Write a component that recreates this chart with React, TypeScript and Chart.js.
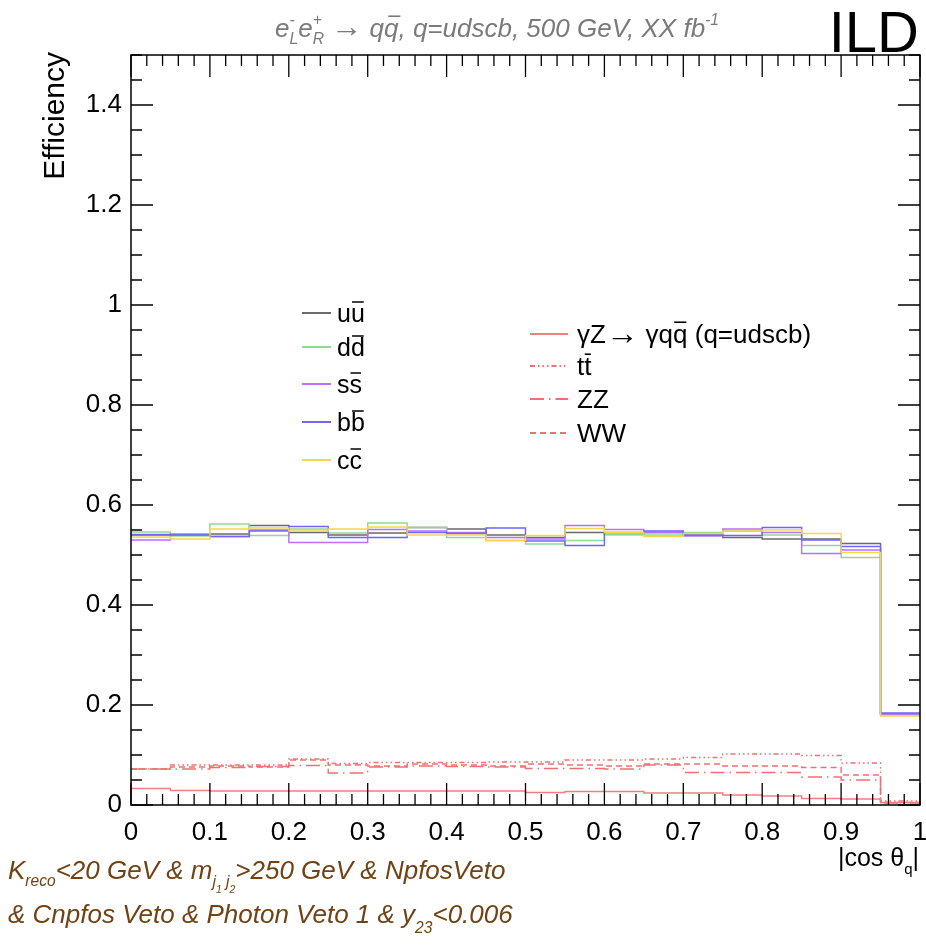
import React, { useEffect, useRef } from "react";
import { Chart, registerables } from "chart.js";
Chart.register(...registerables);

// ---------- data ----------
const binEdges = [0, 0.05, 0.1, 0.15, 0.2, 0.25, 0.3, 0.35, 0.4, 0.45, 0.5, 0.55, 0.6, 0.65, 0.7, 0.75, 0.8, 0.85, 0.9, 0.95, 1];

const uuEff = [0.540, 0.540, 0.542, 0.559, 0.545, 0.540, 0.544, 0.555, 0.552, 0.540, 0.535, 0.545, 0.541, 0.545, 0.540, 0.535, 0.532, 0.532, 0.523, 0.182];
const ddEff = [0.546, 0.538, 0.562, 0.539, 0.552, 0.544, 0.564, 0.555, 0.535, 0.529, 0.522, 0.529, 0.541, 0.540, 0.545, 0.548, 0.540, 0.519, 0.495, 0.180];
const ssEff = [0.530, 0.542, 0.537, 0.550, 0.525, 0.525, 0.551, 0.548, 0.545, 0.535, 0.532, 0.559, 0.551, 0.545, 0.538, 0.552, 0.545, 0.503, 0.510, 0.182];
const bbEff = [0.541, 0.540, 0.537, 0.548, 0.557, 0.535, 0.535, 0.545, 0.543, 0.554, 0.528, 0.519, 0.545, 0.548, 0.540, 0.539, 0.555, 0.530, 0.517, 0.184];
const ccEff = [0.536, 0.532, 0.552, 0.554, 0.548, 0.552, 0.556, 0.540, 0.540, 0.529, 0.539, 0.553, 0.545, 0.537, 0.543, 0.548, 0.550, 0.543, 0.505, 0.178];

const gzEff = [0.033, 0.029, 0.028, 0.028, 0.028, 0.028, 0.028, 0.028, 0.028, 0.028, 0.025, 0.027, 0.027, 0.024, 0.024, 0.020, 0.018, 0.013, 0.012, 0.005];
const ttEff = [0.072, 0.080, 0.080, 0.080, 0.092, 0.083, 0.085, 0.085, 0.085, 0.086, 0.086, 0.090, 0.090, 0.092, 0.095, 0.102, 0.102, 0.099, 0.084, 0.008];
const zzEff = [0.072, 0.072, 0.075, 0.077, 0.079, 0.064, 0.076, 0.078, 0.077, 0.076, 0.073, 0.073, 0.072, 0.080, 0.065, 0.065, 0.065, 0.056, 0.050, 0.004];
const wwEff = [0.072, 0.076, 0.078, 0.076, 0.090, 0.080, 0.078, 0.082, 0.080, 0.078, 0.082, 0.080, 0.078, 0.082, 0.082, 0.078, 0.078, 0.075, 0.060, 0.005];

const xTickLabels = ["0", "0.1", "0.2", "0.3", "0.4", "0.5", "0.6", "0.7", "0.8", "0.9", "1"];
const yTickValues = [0, 0.2, 0.4, 0.6, 0.8, 1, 1.2, 1.4];
const yTickLabels = ["0", "0.2", "0.4", "0.6", "0.8", "1", "1.2", "1.4"];

// ---------- helpers ----------
const FAM = '"Liberation Sans", Arial, Helvetica, sans-serif';

type Seg = { t: string; s?: number; dy?: number; over?: boolean; stay?: boolean; up?: boolean };

function richWidth(ctx: CanvasRenderingContext2D, segs: Seg[], size: number, style: string) {
  let w = 0;
  let held = 0;
  for (const sg of segs) {
    const fs = size * (sg.s || 1);
    ctx.font = `${sg.up ? "normal" : style} ${fs}px ${FAM}`;
    const mw = ctx.measureText(sg.t).width;
    if (sg.stay) { held = mw; continue; }
    w += Math.max(mw, held);
    held = 0;
  }
  return w;
}

function drawRich(ctx: CanvasRenderingContext2D, x: number, y: number, segs: Seg[], size: number, style: string, color: string, align: "left" | "right" | "center" = "left") {
  const w = richWidth(ctx, segs, size, style);
  let cx = align === "right" ? x - w : align === "center" ? x - w / 2 : x;
  let held = 0;
  ctx.save();
  ctx.fillStyle = color;
  ctx.strokeStyle = color;
  ctx.textAlign = "left";
  ctx.textBaseline = "alphabetic";
  for (const sg of segs) {
    const fs = size * (sg.s || 1);
    ctx.font = `${sg.up ? "normal" : style} ${fs}px ${FAM}`;
    const mw = ctx.measureText(sg.t).width;
    const yy = y + (sg.dy || 0) * size;
    ctx.fillText(sg.t, cx, yy);
    if (sg.over) {
      const sh = style.includes("italic") ? fs * 0.12 : 0;
      ctx.lineWidth = Math.max(1.2, fs * 0.06);
      ctx.beginPath();
      ctx.moveTo(cx + mw * 0.08 + sh, yy - fs * 0.8);
      ctx.lineTo(cx + mw * 0.92 + sh, yy - fs * 0.8);
      ctx.stroke();
    }
    if (sg.stay) { held = mw; continue; }
    cx += Math.max(mw, held);
    held = 0;
  }
  ctx.restore();
}

function histPoints(vals: number[]) {
  return binEdges.map((x, i) => ({ x, y: vals[Math.min(i, vals.length - 1)] }));
}

const leftLegend: { idx: number; segs: Seg[]; y: number }[] = [
  { idx: 0, segs: [{ t: "u" }, { t: "u", over: true }], y: 313 },
  { idx: 1, segs: [{ t: "d" }, { t: "d", over: true }], y: 347 },
  { idx: 2, segs: [{ t: "s" }, { t: "s", over: true }], y: 384 },
  { idx: 3, segs: [{ t: "b" }, { t: "b", over: true }], y: 422 },
  { idx: 4, segs: [{ t: "c" }, { t: "c", over: true }], y: 460 },
];
const rightLegend: { idx: number; segs: Seg[]; y: number }[] = [
  { idx: 5, segs: [{ t: "γZ" }, { t: "→", s: 1.25, dy: 0.02 }, { t: " γq" }, { t: "q", over: true }, { t: " (q=udscb)" }], y: 334 },
  { idx: 6, segs: [{ t: "t" }, { t: "t", over: true }], y: 366 },
  { idx: 7, segs: [{ t: "ZZ" }], y: 399 },
  { idx: 8, segs: [{ t: "WW" }], y: 433 },
];

const decorPlugin = {
  id: "decor",
  afterDraw(chart: any) {
    const ctx: CanvasRenderingContext2D = chart.ctx;
    const { left, right, top, bottom } = chart.chartArea;
    const xs = chart.scales.x;
    const ys = chart.scales.y;
    ctx.save();
    // frame
    ctx.strokeStyle = "#000";
    ctx.lineWidth = 1.5;
    ctx.strokeRect(left, top, right - left, bottom - top);
    // ticks (inward, ROOT style)
    ctx.lineWidth = 1.3;
    ctx.beginPath();
    for (let i = 0; i <= 50; i++) {
      const px = xs.getPixelForValue(i * 0.02);
      const L = i % 5 === 0 ? 22 : 11;
      ctx.moveTo(px, bottom); ctx.lineTo(px, bottom - L);
      ctx.moveTo(px, top); ctx.lineTo(px, top + L);
    }
    for (let i = 0; i <= 30; i++) {
      const py = ys.getPixelForValue(i * 0.05);
      const L = i % 4 === 0 ? 22 : 11;
      ctx.moveTo(left, py); ctx.lineTo(left + L, py);
      ctx.moveTo(right, py); ctx.lineTo(right - L, py);
    }
    ctx.stroke();

    // legends
    const dsets = chart.data.datasets;
    const drawSample = (idx: number, x0: number, x1: number, y: number) => {
      const d = dsets[idx];
      ctx.save();
      ctx.strokeStyle = d.borderColor;
      ctx.lineWidth = 2;
      ctx.setLineDash(d.borderDash || []);
      ctx.beginPath();
      ctx.moveTo(x0, y); ctx.lineTo(x1, y);
      ctx.stroke();
      ctx.restore();
    };
    for (const e of leftLegend) {
      drawSample(e.idx, 302, 331, e.y);
      drawRich(ctx, 337, e.y + 9, e.segs, 25, "normal", "#000");
    }
    for (const e of rightLegend) {
      drawSample(e.idx, 530, 568, e.y);
      drawRich(ctx, 577, e.y + 9, e.segs, 26, "normal", "#000");
    }

    // top title
    drawRich(ctx, 497, 37, [
      { t: "e" }, { t: "-", s: 0.6, dy: -0.45, stay: true }, { t: "L", s: 0.6, dy: 0.28 },
      { t: "e" }, { t: "+", s: 0.6, dy: -0.45, stay: true }, { t: "R", s: 0.6, dy: 0.28 },
      { t: " " }, { t: "→", s: 1.2, up: true }, { t: " q" }, { t: "q", over: true }, { t: ", q=udscb, 500 GeV, XX fb" },
      { t: "-1", s: 0.6, dy: -0.45 },
    ], 26, "italic", "#7a7a7a", "center");

    // ILD
    ctx.fillStyle = "#000";
    ctx.font = `58px ${FAM}`;
    ctx.textAlign = "right";
    ctx.textBaseline = "alphabetic";
    ctx.fillText("ILD", 919, 52);

    // y-axis title
    ctx.save();
    ctx.translate(64, 52);
    ctx.rotate(-Math.PI / 2);
    ctx.font = `30px ${FAM}`;
    ctx.textAlign = "right";
    ctx.fillStyle = "#000";
    ctx.fillText("Efficiency", 0, 0);
    ctx.restore();

    // x-axis title
    drawRich(ctx, 919, 866, [{ t: "|cos θ" }, { t: "q", s: 0.6, dy: 0.3 }, { t: "|" }], 25, "normal", "#000", "right");

    // selection text
    const brown = "#704214";
    drawRich(ctx, 8, 879, [
      { t: "K" }, { t: "reco", s: 0.6, dy: 0.25 }, { t: "<20 GeV & m" },
      { t: "j", s: 0.6, dy: 0.3 }, { t: "1", s: 0.4, dy: 0.55 }, { t: " j", s: 0.6, dy: 0.3 }, { t: "2", s: 0.4, dy: 0.55 },
      { t: ">250 GeV & NpfosVeto" },
    ], 26, "italic", brown);
    drawRich(ctx, 8, 923, [
      { t: "& Cnpfos Veto & Photon Veto 1 & y" }, { t: "23", s: 0.6, dy: 0.38 }, { t: "<0.006" },
    ], 26, "italic", brown);

    ctx.restore();
  },
};

export default function App() {
  const ref = useRef<HTMLCanvasElement | null>(null);
  useEffect(() => {
    if (!ref.current) return;
    const mk = (label: string, vals: number[], color: string, dash: number[] = [], order = 0) => ({
      label,
      data: histPoints(vals),
      borderColor: color,
      backgroundColor: color,
      borderWidth: 1.4,
      borderDash: dash,
      stepped: true,
      pointRadius: 0,
      fill: false,
      tension: 0,
      order,
    });
    const chart = new Chart(ref.current, {
      type: "line",
      data: {
        datasets: [
          mk("uu", uuEff, "#6a6a6a", [], 5),
          mk("dd", ddEff, "#92d892", [], 4),
          mk("ss", ssEff, "#b870ff", [], 3),
          mk("bb", bbEff, "#7264ff", [], 2),
          mk("cc", ccEff, "#f2d84c", [], 1),
          mk("gZ", gzEff, "#f08080"),
          mk("tt", ttEff, "#f07070", [5, 3, 1.5, 3, 1.5, 3, 1.5, 3]),
          mk("ZZ", zzEff, "#f07070", [14, 5, 1.5, 5]),
          mk("WW", wwEff, "#f07070", [6, 4]),
        ] as any,
      },
      options: {
        responsive: false,
        animation: false,
        layout: { padding: { top: 55, right: 6, left: 0, bottom: 0 } },
        plugins: { legend: { display: false }, tooltip: { enabled: false }, title: { display: false } },
        scales: {
          x: {
            type: "linear",
            min: 0,
            max: 1,
            afterFit: (s: any) => { s.height = 140; s.paddingLeft = 0; s.paddingRight = 0; },
            grid: { display: false, drawTicks: false },
            border: { display: false },
            ticks: {
              stepSize: 0.1,
              autoSkip: false,
              maxRotation: 0,
              padding: 12,
              color: "#000",
              font: { family: FAM, size: 26 },
              callback: (v: any) => {
                const i = Math.round(Number(v) * 10);
                return Math.abs(Number(v) * 10 - i) < 1e-6 ? xTickLabels[i] ?? "" : "";
              },
            },
          },
          y: {
            type: "linear",
            min: 0,
            max: 1.5,
            afterFit: (s: any) => { s.width = 131; s.paddingTop = 0; s.paddingBottom = 0; },
            grid: { display: false, drawTicks: false },
            border: { display: false },
            ticks: {
              stepSize: 0.2,
              includeBounds: false,
              autoSkip: false,
              padding: 9,
              color: "#000",
              font: { family: FAM, size: 26 },
              callback: (v: any) => {
                const k = yTickValues.findIndex((t) => Math.abs(t - Number(v)) < 1e-6);
                return k >= 0 ? yTickLabels[k] : "";
              },
            },
          },
        },
      } as any,
      plugins: [decorPlugin],
    });
    return () => chart.destroy();
  }, []);
  return (
    <div style={{ position: "fixed", left: 0, top: 0, width: 926, height: 945, background: "#fff" }}>
      <canvas ref={ref} width={926} height={945} style={{ display: "block" }} />
    </div>
  );
}
